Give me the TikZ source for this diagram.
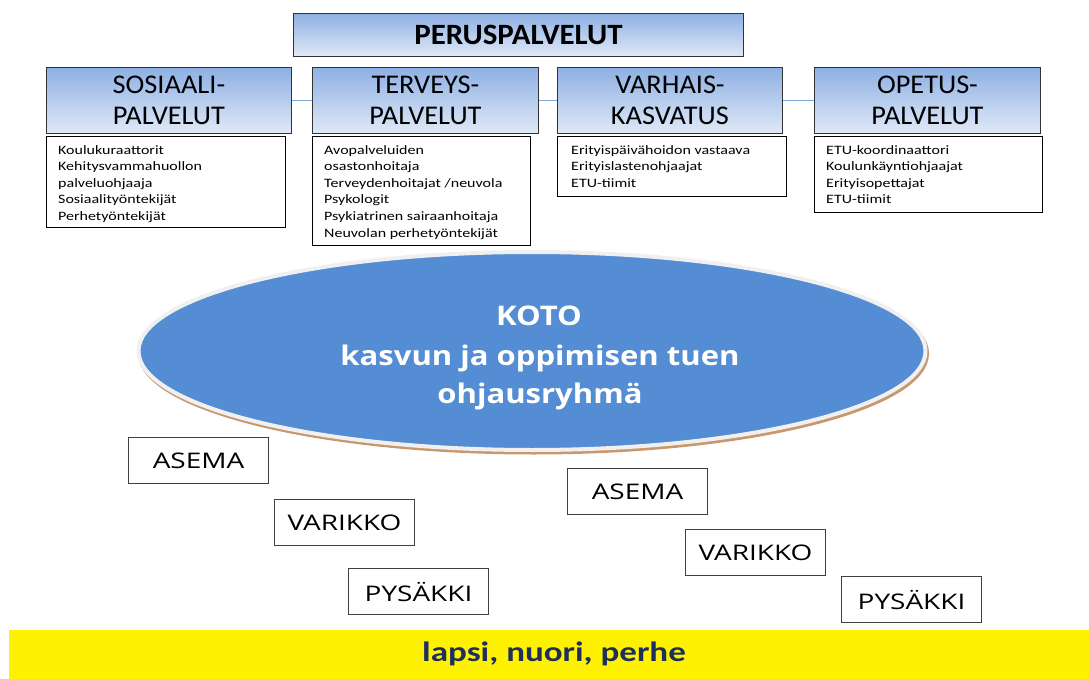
\documentclass[tikz,border=0pt]{standalone}
\usepackage{fontspec}
\setmainfont{Carlito}
\newfontfamily\calfont[FakeStretch=1.25]{Carlito}
\newfontfamily\hdfont[FakeStretch=1.05]{Carlito}
\newfontfamily\osansfont[FakeStretch=1.3]{Open Sans}
\newfontfamily\osansbfont[FakeStretch=1.15]{Open Sans}
\usetikzlibrary{shapes.geometric}
\definecolor{hdtop}{HTML}{8EB0E3}
\definecolor{hdbot}{HTML}{E0E9F7}
\definecolor{linkc}{HTML}{7FA6D8}
\definecolor{ellblue}{HTML}{548DD4}
\definecolor{ellrim}{HTML}{F0F0F0}
\definecolor{ellshadow}{HTML}{C9976E}
\definecolor{navy}{HTML}{1F2F5C}
\tikzset{
  hdr/.style={draw=black!80, line width=0.9pt, top color=hdtop, bottom color=hdbot,
    inner sep=0pt, anchor=north west, align=center},
  hdrfont/.style={font={\hdfont\fontsize{27}{30.5}\selectfont}},
  lbox/.style={draw=black, line width=1pt, fill=white, inner sep=0pt, anchor=north west},
  ltxt/.style={anchor=base west, inner sep=0pt, font={\calfont\fontsize{12.8}{16.5}\selectfont}},
  link/.style={draw=linkc, line width=1.6pt},
  stn/.style={draw=black!75, line width=1pt, fill=white, inner sep=0pt, anchor=north west,
    minimum width=140pt, minimum height=46pt, font={\osansfont\fontsize{21.5}{26}\selectfont}},
  ktxt/.style={anchor=base, inner sep=0pt, text=white, font={\osansbfont\bfseries\fontsize{27}{30}\selectfont}}
}
\begin{document}
\begin{tikzpicture}[x=1pt,y=-1pt]
\useasboundingbox (0,0) rectangle (1089,679);
% top title
\node[hdr, minimum width=450pt, minimum height=43pt, font={\hdfont\bfseries\fontsize{29.5}{32}\selectfont}] (perus) at (293,13) {PERUSPALVELUT};
% header boxes
\node[hdr, hdrfont, minimum width=245pt, minimum height=66pt] (h1) at (46,67) {SOSIAALI-\\PALVELUT};
\node[hdr, hdrfont, minimum width=226pt, minimum height=66pt] (h2) at (312,67) {TERVEYS-\\PALVELUT};
\node[hdr, hdrfont, minimum width=225pt, minimum height=66pt] (h3) at (557,67) {VARHAIS-\\KASVATUS};
\node[hdr, hdrfont, minimum width=226pt, minimum height=66pt] (h4) at (814,67) {OPETUS-\\PALVELUT};
\draw[link] (h1.east) -- (h2.west);
\draw[link] (h2.east) -- (h3.west);
\draw[link] (h3.east) -- (h4.west);
% list boxes
\node[lbox, minimum width=239pt, minimum height=91pt] (b1) at (46,136) {};
\node[lbox, minimum width=218pt, minimum height=109pt] (b2) at (312,136) {};
\node[lbox, minimum width=229pt, minimum height=60pt] (b3) at (557,136) {};
\node[lbox, minimum width=228pt, minimum height=76pt] (b4) at (814,136) {};
\foreach \t [count=\i] in {Koulukuraattorit, Kehitysvammahuollon, palveluohjaaja, Sosiaalityöntekijät, Perhetyöntekijät}
  \node[ltxt] (b1t\i) at (58,{154.5+16.5*(\i-1)}) {\t};
\foreach \t [count=\i] in {Avopalveluiden, osastonhoitaja, Terveydenhoitajat /neuvola, Psykologit, Psykiatrinen sairaanhoitaja, Neuvolan perhetyöntekijät}
  \node[ltxt] (b2t\i) at (324,{154.5+16.5*(\i-1)}) {\t};
\foreach \t [count=\i] in {Erityispäivähoidon vastaava, Erityislastenohjaajat, ETU-tiimit}
  \node[ltxt] (b3t\i) at (571,{154.5+16.5*(\i-1)}) {\t};
\foreach \t [count=\i] in {ETU-koordinaattori, Koulunkäyntiohjaajat, Erityisopettajat, ETU-tiimit}
  \node[ltxt] (b4t\i) at (826,{154.5+16.5*(\i-1)}) {\t};
% ellipse
\node[ellipse, fill=ellshadow, draw=ellshadow, line width=4pt, minimum width=787pt, minimum height=198pt, inner sep=0pt] (kshadow) at (533.5,353.5) {};
\node[ellipse, fill=ellblue, draw=ellrim, line width=4pt, minimum width=787pt, minimum height=198pt, inner sep=0pt] (koto) at (532,351) {};
\node[ktxt] (k1) at (539,325) {KOTO};
\node[ktxt] (k2) at (540,365) {kasvun ja oppimisen tuen};
\node[ktxt] (k3) at (540,403) {ohjausryhmä};
% station boxes
\node[stn] (as1) at (128,437) {ASEMA};
\node[stn] (va1) at (274,499) {VARIKKO};
\node[stn] (py1) at (348,568) {PYSÄKKI};
\node[stn] (as2) at (567,468) {ASEMA};
\node[stn] (va2) at (685,529) {VARIKKO};
\node[stn] (py2) at (841,576) {PYSÄKKI};
% bottom bar
\node[fill=yellow, inner sep=0pt, anchor=north west, minimum width=1080pt, minimum height=49pt] (bar) at (9,630) {};
\node[inner sep=0pt, text=navy, font={\calfont\bfseries\fontsize{28}{30}\selectfont}] (bartxt) at (554,654) {lapsi, nuori, perhe};
\end{tikzpicture}
\end{document}
